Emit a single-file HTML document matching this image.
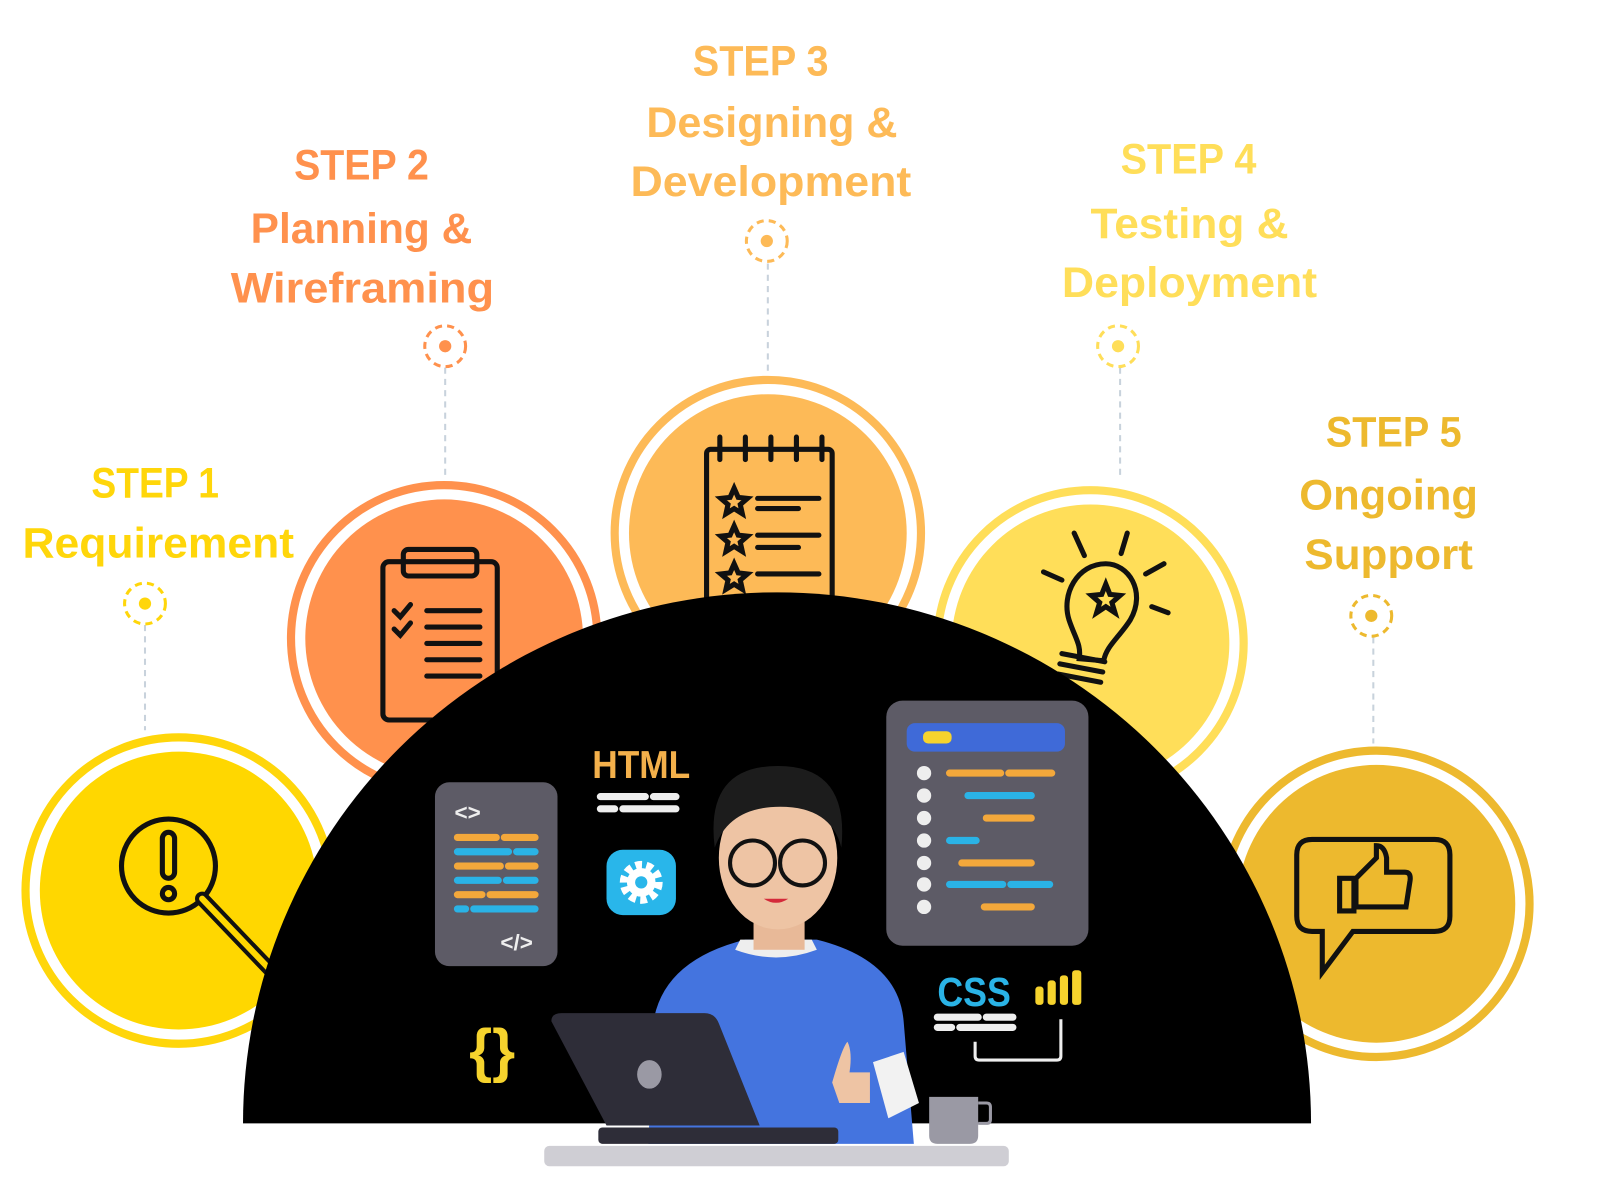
<!DOCTYPE html>
<html><head><meta charset="utf-8"><style>
html,body{margin:0;padding:0;background:#fff;}
svg{display:block}
text{font-family:"Liberation Sans",sans-serif;font-weight:bold;text-anchor:middle}
</style></head><body>
<svg width="1600" height="1200" viewBox="0 0 1567 1175" preserveAspectRatio="none" xmlns="http://www.w3.org/2000/svg">
<g>
<circle cx="175" cy="872" r="150" fill="#fff" stroke="#FFD60A" stroke-width="8"/>
<circle cx="175" cy="872" r="136" fill="#FFD700"/>
<circle cx="435" cy="625" r="150" fill="#fff" stroke="#FF914D" stroke-width="8"/>
<circle cx="435" cy="625" r="136" fill="#FF914D"/>
<circle cx="752" cy="522" r="150" fill="#fff" stroke="#FDBA57" stroke-width="8"/>
<circle cx="752" cy="522" r="136" fill="#FDBA57"/>
<circle cx="1068" cy="630" r="150" fill="#fff" stroke="#FFDE59" stroke-width="8"/>
<circle cx="1068" cy="630" r="136" fill="#FFDE59"/>
<circle cx="1348" cy="885" r="150" fill="#fff" stroke="#EDB92E" stroke-width="8"/>
<circle cx="1348" cy="885" r="136" fill="#EDB92E"/>
</g>
<g fill="none" stroke="#111" stroke-width="5" stroke-linecap="round">
<circle cx="165" cy="848" r="46"/><line x1="198" y1="880" x2="265" y2="950" stroke-width="14"/>
<line x1="198" y1="880" x2="265" y2="950" stroke="#FFD700" stroke-width="6"/>
<rect x="159" y="815" width="12" height="45" rx="6"/><circle cx="165" cy="875" r="6"/>
<rect x="375" y="550" width="112" height="155" rx="6"/><rect x="395" y="538" width="72" height="26" rx="5"/>
<path d="M386 598l6 6 10-12M386 616l6 6 10-12M418 598h52M418 614h52M418 630h52M418 646h52M418 662h52"/>
<rect x="692" y="440" width="123" height="150" rx="4"/>
<path d="M705 428v22M730 428v22M755 428v22M780 428v22M805 428v22M742 488h60M742 498h40M742 524h60M742 536h40M742 562h60"/>
<path d="M719 478l4 9 9 1-7 6 2 9-8-5-8 5 2-9-7-6 9-1z"/>
<path d="M719 515l4 9 9 1-7 6 2 9-8-5-8 5 2-9-7-6 9-1z"/>
<path d="M719 552l4 9 9 1-7 6 2 9-8-5-8 5 2-9-7-6 9-1z"/>
<path d="M1083 552c-28 0-44 30-36 55 6 18 12 24 10 38l24 2c2-14 16-24 26-40 16-28-2-55-24-55z"/>
<path d="M1083 572l4 10 10 1-8 7 3 10-9-6-9 6 3-10-8-7 10-1z"/>
<path d="M1040 640l42 8M1038 650l42 8M1036 660l42 8M1022 560l18 8M1052 522l10 22M1104 522l-6 20M1122 562l18-10M1128 594l16 6"/>
<path d="M1285 822h120q15 0 15 15v60q0 15-15 15h-80l-30 40v-40h-10q-15 0-15-15v-60q0-15 15-15z"/>
<path d="M1312 860h14v32h-14zM1328 860l20-20v-12q8 0 10 12v14h18q6 0 5 8l-4 26h-49z"/>
</g>
<path d="M238 1100 A523 520 0 0 1 1284 1100 Z" fill="#000"/>
<g stroke="#c8d2dc" stroke-width="2" stroke-dasharray="6 5" fill="none">
<line x1="142" y1="612" x2="142" y2="715"/><line x1="436" y1="360" x2="436" y2="465"/>
<line x1="752" y1="258" x2="752" y2="365"/><line x1="1097" y1="360" x2="1097" y2="465"/>
<line x1="1345" y1="624" x2="1345" y2="728"/>
</g>
<g stroke-width="3" stroke-dasharray="7 5" fill="none">
<circle cx="142" cy="591" r="20" stroke="#FFD60A"/><circle cx="436" cy="339" r="20" stroke="#FF914D"/>
<circle cx="751" cy="236" r="20" stroke="#FDBA57"/><circle cx="1095" cy="339" r="20" stroke="#FFDE59"/>
<circle cx="1343" cy="603" r="20" stroke="#EDB92E"/>
</g>
<circle cx="142" cy="591" r="6" fill="#FFD60A"/><circle cx="436" cy="339" r="6" fill="#FF914D"/>
<circle cx="751" cy="236" r="6" fill="#FDBA57"/><circle cx="1095" cy="339" r="6" fill="#FFDE59"/>
<circle cx="1343" cy="603" r="6" fill="#EDB92E"/>
<g font-size="42">
<text x="152" y="487" fill="#FFD60A" textLength="125" lengthAdjust="spacingAndGlyphs">STEP 1</text>
<text x="155" y="546" fill="#FFD60A" textLength="266" lengthAdjust="spacingAndGlyphs">Requirement</text>
<text x="354" y="176" fill="#FF914D" textLength="132" lengthAdjust="spacingAndGlyphs">STEP 2</text>
<text x="354" y="238" fill="#FF914D" textLength="217" lengthAdjust="spacingAndGlyphs">Planning &amp;</text>
<text x="355" y="296" fill="#FF914D" textLength="258" lengthAdjust="spacingAndGlyphs">Wireframing</text>
<text x="745" y="74" fill="#FDBA57" textLength="133" lengthAdjust="spacingAndGlyphs">STEP 3</text>
<text x="756" y="134" fill="#FDBA57" textLength="246" lengthAdjust="spacingAndGlyphs">Designing &amp;</text>
<text x="755" y="192" fill="#FDBA57" textLength="275" lengthAdjust="spacingAndGlyphs">Development</text>
<text x="1164" y="170" fill="#FFDE59" textLength="133" lengthAdjust="spacingAndGlyphs">STEP 4</text>
<text x="1165" y="233" fill="#FFDE59" textLength="194" lengthAdjust="spacingAndGlyphs">Testing &amp;</text>
<text x="1165" y="291" fill="#FFDE59" textLength="250" lengthAdjust="spacingAndGlyphs">Deployment</text>
<text x="1365" y="437" fill="#EDB92E" textLength="133" lengthAdjust="spacingAndGlyphs">STEP 5</text>
<text x="1360" y="499" fill="#EDB92E" textLength="175" lengthAdjust="spacingAndGlyphs">Ongoing</text>
<text x="1360" y="557" fill="#EDB92E" textLength="165" lengthAdjust="spacingAndGlyphs">Support</text>
</g>
<rect x="426" y="766" width="120" height="180" rx="14" fill="#5d5b66"/>
<text x="458" y="803" font-size="22" fill="#eee">&lt;&gt;</text>
<text x="506" y="930" font-size="22" fill="#eee">&lt;/&gt;</text>
<g stroke-width="7" stroke-linecap="round">
<path d="M448 820h38M494 820h30M448 848h42M498 848h26M448 876h24M480 876h44" stroke="#F3A83B"/>
<path d="M448 834h50M506 834h18M448 862h40M496 862h28M448 890h8M464 890h60" stroke="#2AB3E6"/>
</g>
<text x="628" y="762" font-size="38" fill="#F3B04B" textLength="96" lengthAdjust="spacingAndGlyphs">HTML</text>
<g stroke="#eee" stroke-width="7" stroke-linecap="round"><path d="M588 780h44M640 780h22M588 792h14M610 792h52"/></g>
<rect x="594" y="832" width="68" height="64" rx="16" fill="#29B6EA"/>
<circle cx="628" cy="864" r="16" fill="none" stroke="#fff" stroke-width="10" stroke-dasharray="6 4"/>
<circle cx="628" cy="864" r="14" fill="#fff"/><circle cx="628" cy="864" r="6" fill="#29B6EA"/>
<rect x="868" y="686" width="198" height="240" rx="16" fill="#5d5b66"/>
<rect x="888" y="708" width="155" height="28" rx="8" fill="#3F6AD8"/>
<rect x="904" y="716" width="28" height="12" rx="5" fill="#F6D32D"/>
<g fill="#eee"><circle cx="905" cy="757" r="7"/><circle cx="905" cy="779" r="7"/><circle cx="905" cy="801" r="7"/><circle cx="905" cy="823" r="7"/><circle cx="905" cy="845" r="7"/><circle cx="905" cy="866" r="7"/><circle cx="905" cy="888" r="7"/></g>
<g stroke-width="7" stroke-linecap="round">
<path d="M930 757h50M988 757h42M966 801h44M942 845h68M964 888h46" stroke="#F3A83B"/>
<path d="M948 779h62M930 823h26M930 866h52M990 866h38" stroke="#2AB3E6"/>
</g>
<text x="954" y="985" font-size="40" fill="#2AB3E6" textLength="72" lengthAdjust="spacingAndGlyphs">CSS</text>
<g fill="#F6D32D"><rect x="1014" y="966" width="8" height="18" rx="3"/><rect x="1026" y="960" width="8" height="24" rx="3"/><rect x="1038" y="955" width="8" height="29" rx="3"/><rect x="1050" y="950" width="9" height="34" rx="3"/></g>
<g stroke="#eee" stroke-width="7" stroke-linecap="round"><path d="M918 996h40M966 996h26M918 1006h14M940 1006h52"/></g>
<path d="M955 1020v14q0 4 4 4h76q4 0 4-4v-36" fill="none" stroke="#eee" stroke-width="3"/>
<text x="482" y="1048" font-size="58" fill="#F6D32D">{}</text>
<path d="M640 1000q10-60 90-80h70q80 20 85 80l10 120h-260z" fill="#4474DF"/>
<path d="M720 930q40 15 80 0l-5 -10h-70z" fill="#eee"/>
<rect x="738" y="880" width="50" height="50" fill="#E8B998"/>
<ellipse cx="762" cy="840" rx="58" ry="70" fill="#EEC4A4"/>
<path d="M700 830q-10-80 62-80q70 0 62 80q-10-40-60-40q-50 0-64 40z" fill="#1c1c1c"/>
<circle cx="737" cy="845" r="22" fill="none" stroke="#111" stroke-width="4"/>
<circle cx="786" cy="845" r="22" fill="none" stroke="#111" stroke-width="4"/>
<path d="M748 880q12 8 24 0z" fill="#D42A3A"/>
<path d="M855 1040l30-10 15 50-30 15z" fill="#f2f2f2"/>
<path d="M815 1060q10-35 15-40 5 10 2 30h20v30h-30z" fill="#EEC4A4"/>
<path d="M540 1000q0-8 10-8h140q10 0 14 10l40 100h-150z" fill="#2e2d38"/>
<ellipse cx="636" cy="1052" rx="12" ry="14" fill="#9a99a4"/>
<rect x="586" y="1104" width="235" height="16" rx="4" fill="#2e2d38"/>
<path d="M910 1074h48v38q0 8-8 8h-32q-8 0-8-8z" fill="#9a99a4"/>
<path d="M958 1080h8q4 0 4 4v12q0 4-4 4h-8" fill="none" stroke="#9a99a4" stroke-width="3"/>
<rect x="533" y="1122" width="455" height="20" rx="5" fill="#cfced4"/>
</svg>
</body></html>
